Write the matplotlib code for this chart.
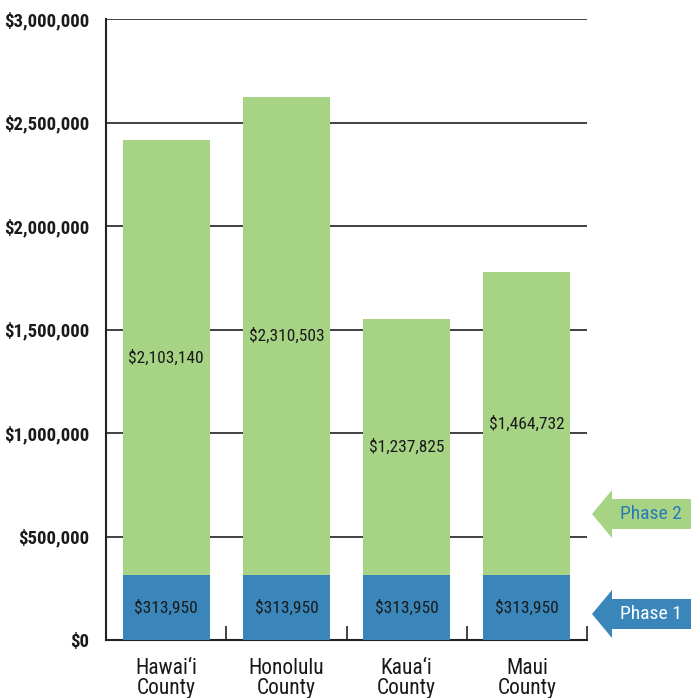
import matplotlib
matplotlib.use("Agg")
import matplotlib.pyplot as plt
from matplotlib import font_manager
from matplotlib.patches import Polygon
from matplotlib.ticker import FuncFormatter

counties = ["Hawai\u2018i\nCounty", "Honolulu\nCounty", "Kaua\u2018i\nCounty", "Maui\nCounty"]
phase1 = [313950, 313950, 313950, 313950]
phase2 = [2103140, 2310503, 1237825, 1464732]
yticks = [0, 500000, 1000000, 1500000, 2000000, 2500000, 3000000]

names = {f.name for f in font_manager.fontManager.ttflist}
FONT = "DejaVu Sans"
for cand in ["Roboto Condensed", "Liberation Sans Narrow", "Archivo Narrow", "Asap Condensed", "Barlow Semi Condensed"]:
    if cand in names:
        FONT = cand
        break
plt.rcParams["font.family"] = [FONT, "DejaVu Sans"]

GREEN = "#a6d384"
BLUE = "#3a86bb"
TXT = "#1a1a1a"

W, H = 691, 698
fig = plt.figure(figsize=(W / 100, H / 100), dpi=100)
ax = fig.add_axes([106 / W, (H - 640) / H, (587 - 106) / W, (640 - 19) / H])

x = list(range(len(counties)))
ax.bar(x, phase1, width=0.725, color=BLUE, zorder=3)
ax.bar(x, phase2, width=0.725, bottom=phase1, color=GREEN, zorder=3)

for xi, p1, p2 in zip(x, phase1, phase2):
    ax.text(xi, p1 / 2, f"${p1:,}", ha="center", va="center", fontsize=12.5, color=TXT, zorder=4)
    ax.text(xi, p1 + p2 / 2, f"${p2:,}", ha="center", va="center", fontsize=12.5, color=TXT, zorder=4)

ax.set_xlim(-0.5, 3.5)
ax.set_ylim(0, 3000000)
ax.set_yticks(yticks)
ax.yaxis.set_major_formatter(FuncFormatter(lambda v, p: f"${int(v):,}"))
ax.tick_params(axis="y", length=0, pad=12, labelsize=13.5)
for lab in ax.get_yticklabels():
    lab.set_fontweight("heavy")
    lab.set_color(TXT)
ax.set_xticks(x)
ax.set_xticklabels(counties, fontsize=15.5, color=TXT, linespacing=0.95)
ax.tick_params(axis="x", length=0, pad=13)
ax.set_xticks([0.5, 1.5, 2.5, 3.5], minor=True)
ax.tick_params(axis="x", which="minor", direction="in", length=10, width=1.2, color="#222222")

ax.grid(axis="y", color="#222222", linewidth=1.2, zorder=1)
for s in ["top", "right"]:
    ax.spines[s].set_visible(False)
ax.spines["left"].set_linewidth(1.5)
ax.spines["bottom"].set_linewidth(1.5)
ax.spines["left"].set_color("#222222")
ax.spines["bottom"].set_color("#222222")


def arrow(yc, color, label, tcolor):
    tip = 592
    hb = 612
    hh = 24
    sh = 15
    pts = [(tip, yc), (hb, yc - hh), (hb, yc - sh), (W, yc - sh), (W, yc + sh), (hb, yc + sh), (hb, yc + hh)]
    pts = [(px / W, 1 - py / H) for px, py in pts]
    fig.patches.append(Polygon(pts, closed=True, facecolor=color, edgecolor="none", transform=fig.transFigure))
    fig.text(651 / W, 1 - yc / H, label, ha="center", va="center", fontsize=14, color=tcolor)


arrow(514, GREEN, "Phase 2", "#2a7ab8")
arrow(614, BLUE, "Phase 1", "white")

fig.savefig("out.png", dpi=100)
